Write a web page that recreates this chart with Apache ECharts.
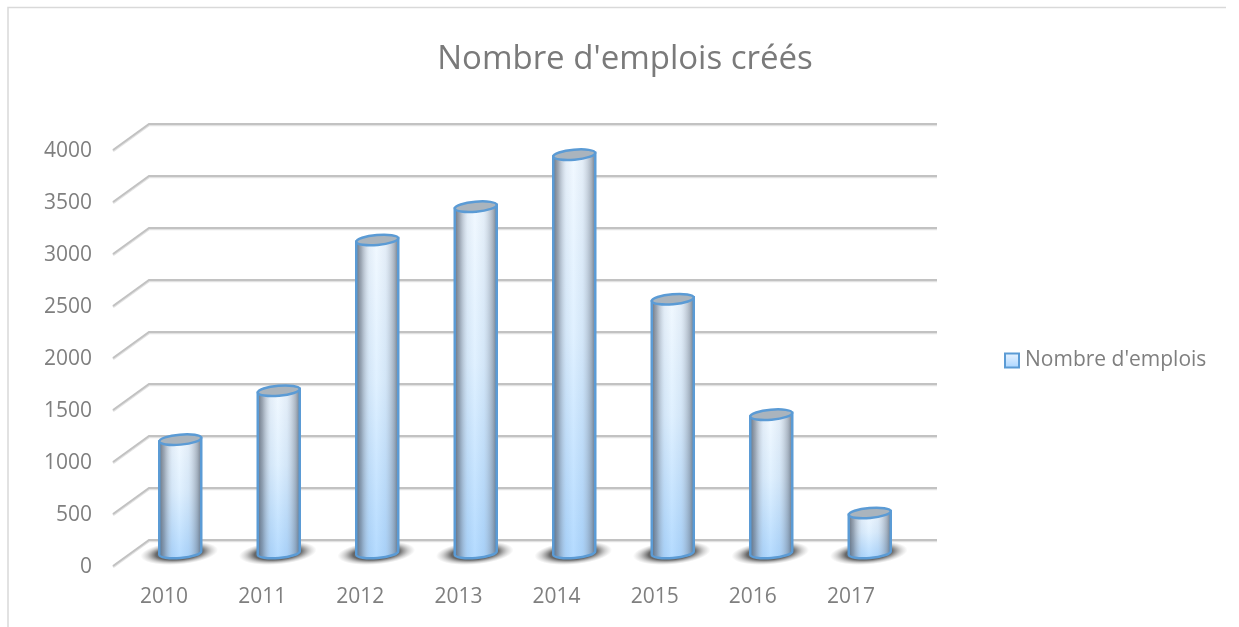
<!DOCTYPE html>
<html><head><meta charset="utf-8">
<style>html,body{margin:0;padding:0;background:#fff}#c{width:1239px;height:627px}</style>
<script src="https://cdn.jsdelivr.net/npm/echarts@6/dist/echarts.min.js"></script>
</head><body><div id="c"></div>
<script>
const categories = ['2010','2011','2012','2013','2014','2015','2016','2017'];
const values = [1090,1560,3010,3330,3830,2440,1330,385];
const ticks = [0,500,1000,1500,2000,2500,3000,3500,4000];
const seriesName = "Nombre d'emplois";
const titleText = "Nombre d'emplois créés";
const font = '"Open Sans","Noto Sans",sans-serif';
const textColor = '#7f7f7f';
const edge = '#5b9bd5';

const chart = echarts.init(document.getElementById('c'), null, {renderer:'canvas'});

function wallItem(params, api){
  const p = api.coord([0, api.value(0)]);
  const x0 = params.coordSys.x, x1 = x0 + params.coordSys.width;
  const y = p[1];
  return {type:'group', silent:true, children:[
    {type:'polyline', shape:{points:[[x0-36,y+27],[x0,y+1],[x1,y+1]]}, style:{stroke:'#e2e2e2', lineWidth:2.5, fill:null}},
    {type:'polyline', shape:{points:[[x0-36,y+26],[x0,y],[x1,y]]}, style:{stroke:'#c2c2c2', lineWidth:2, fill:null}}
  ]};
}
function barItem(params, api){
  const cx = api.coord([api.value(0),0])[0];
  const yB = api.coord([api.value(0),0])[1];
  const yT = api.coord([api.value(0),api.value(1)])[1];
  const rx = 21, ry = 5, deg = 5, dy = 1.8;
  const L = cx-rx, R = cx+rx;
  const body = `M${L} ${yT+dy} L${L} ${yB+dy} A${rx} ${ry} ${-deg} 0 0 ${R} ${yB-dy} L${R} ${yT-dy} Z`;
  return {type:'group', silent:true, children:[
    {type:'circle', shape:{cx:0, cy:0, r:10}, x:cx-1, y:yB, scaleX:3.9, scaleY:1.15, rotation:deg*Math.PI/180,
      style:{fill:{type:'radial',x:.5,y:.5,r:.5,colorStops:[
        {offset:0,color:'rgba(40,40,40,.9)'},{offset:.6,color:'rgba(55,55,55,.75)'},{offset:.82,color:'rgba(100,100,100,.3)'},{offset:1,color:'rgba(140,140,140,0)'}]}}},
    {type:'path', shape:{pathData:body},
      style:{fill:{type:'linear',x:0,y:0,x2:0,y2:1,colorStops:[
        {offset:0,color:'#eef7ff'},{offset:.45,color:'#d8edff'},{offset:1,color:'#a2d2ff'}]}}},
    {type:'path', shape:{pathData:body},
      style:{stroke:edge,lineWidth:2.5,fill:{type:'linear',x:0,y:0,x2:1,y2:0,colorStops:[
        {offset:0,color:'rgba(75,85,100,.9)'},{offset:.14,color:'rgba(105,115,130,.6)'},
        {offset:.32,color:'rgba(190,200,215,.2)'},{offset:.48,color:'rgba(255,255,255,.2)'},
        {offset:.68,color:'rgba(190,200,215,.2)'},{offset:.88,color:'rgba(115,125,140,.55)'},{offset:1,color:'rgba(75,85,100,.9)'}]}}},
    {type:'ellipse', shape:{cx:0,cy:0,rx:rx,ry:ry}, x:cx, y:yT, rotation:deg*Math.PI/180,
      style:{fill:'#aab4bd',stroke:edge,lineWidth:2.5}}
  ]};
}

chart.setOption({
  animation:false,
  backgroundColor:'#fff',
  title:{text:titleText,left:620,top:38,textAlign:'center',
    textStyle:{fontFamily:font,fontSize:33,fontWeight:'normal',color:'#7a7a7a'}},
  legend:{show:true,data:[seriesName],left:999,top:345,icon:'rect',itemWidth:14,itemHeight:14,itemGap:0,
    textStyle:{fontFamily:font,fontSize:21,color:textColor,padding:[0,0,0,1]},
    itemStyle:{color:{type:'linear',x:0,y:0,x2:0,y2:1,colorStops:[{offset:0,color:'#eaf4ff'},{offset:1,color:'#a8d4ff'}]},borderColor:edge,borderWidth:2}},
  tooltip:{show:false},
  graphic:[{type:'polyline',silent:true,z:-1,shape:{points:[[8,627],[8,7.5],[1226,7.5]]},style:{stroke:'#d9d9d9',lineWidth:1.5,fill:null}}],
  grid:[
    {left:149,top:124,width:788,height:416},
    {left:115,top:151,width:785,height:416},
    {left:131,top:137,width:788,height:416}
  ],
  xAxis:[
    {gridIndex:0,type:'category',data:categories,show:false},
    {gridIndex:1,type:'category',data:categories,axisLine:{show:false},axisTick:{show:false},
      axisLabel:{color:textColor,fontFamily:font,fontSize:21,margin:20}},
    {gridIndex:2,type:'category',data:categories,show:false}
  ],
  yAxis:[
    {gridIndex:0,type:'value',min:0,max:4000,interval:500,show:false,splitLine:{show:false}},
    {gridIndex:1,type:'value',min:0,max:4000,interval:500,axisLine:{show:false},axisTick:{show:false},splitLine:{show:false},
      axisLabel:{color:textColor,fontFamily:font,fontSize:21,margin:23,formatter:v=>String(v)}},
    {gridIndex:2,type:'value',min:0,max:4000,interval:500,show:false,splitLine:{show:false}}
  ],
  series:[
    {type:'custom',name:'wall',xAxisIndex:0,yAxisIndex:0,data:ticks.map(t=>[t]),encode:{y:0},renderItem:wallItem,z:1,silent:true,clip:false},
    {type:'custom',name:seriesName,xAxisIndex:2,yAxisIndex:2,data:values.map((v,i)=>[i,v]),encode:{x:0,y:1},renderItem:barItem,z:2,silent:true,clip:false,
     itemStyle:{color:'#a8d4ff'}}
  ]
});
</script></body></html>
